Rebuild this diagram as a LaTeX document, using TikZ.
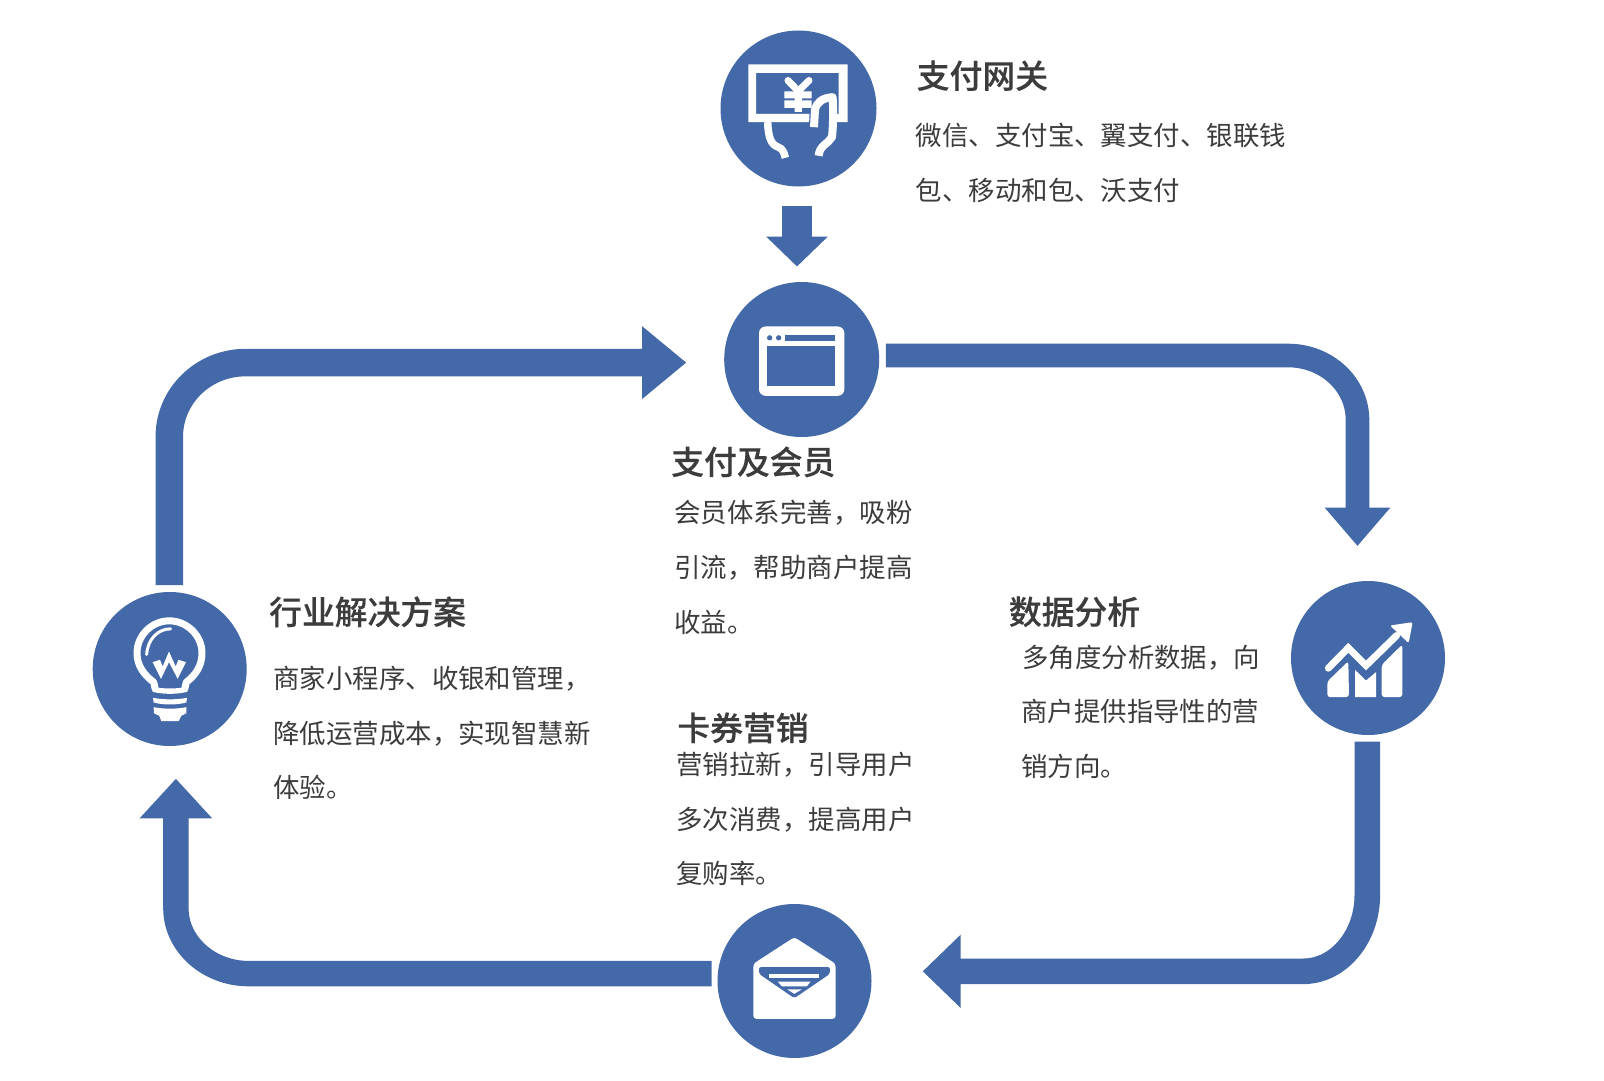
\documentclass[tikz,border=0pt]{standalone}
\usepackage{fontspec}
\setmainfont{Noto Sans CJK SC}
\newfontfamily\headfont{Noto Sans CJK SC Medium}[FakeBold=0.35]
\usetikzlibrary{arrows.meta}
\definecolor{brandblue}{HTML}{4369A9}
\definecolor{inkgrey}{HTML}{3C3C3C}
\tikzset{
  hub/.style={circle,fill=brandblue,inner sep=0pt,minimum size=#1},
  flow/.style={draw=brandblue,line cap=butt,line join=round},
  headtitle/.style={anchor=west,inner sep=0pt,text=inkgrey,font=\fontsize{32.8}{36}\headfont},
  bodyline/.style={anchor=west,inner sep=0pt,text=inkgrey,font=\fontsize{26.45}{30}\selectfont},
  iconink/.style={fill=white,draw=none},
  iconline/.style={draw=white,line cap=butt,line join=round}
}
\begin{document}
\begin{tikzpicture}[x=1pt,y=-1pt]
\useasboundingbox[fill=white] (0,0) rectangle (1604,1081);

% hubs
\node[hub=156pt] (gateway) at (798.5,108.5) {};
\node[hub=155pt] (payment) at (801.7,359.5) {};
\node[hub=154pt] (analytics) at (1368,658) {};
\node[hub=154pt] (coupon) at (794.5,981) {};
\node[hub=154pt] (solution) at (169.7,669) {};

% connector ends
\coordinate (gwOut) at (797,205.7);
\coordinate (payIn) at (797,266.5);
\coordinate (payOut) at (885.8,355.5);
\coordinate (anaIn) at (1357.5,546);
\coordinate (anaOut) at (1367.3,741.7);
\coordinate (couIn) at (922.7,971.3);
\coordinate (couOut) at (711.7,973.6);
\coordinate (solIn) at (175.9,778.7);
\coordinate (solOut) at (169.3,585);
\coordinate (payIn2) at (686.4,362.6);

% connectors
\draw[flow,line width=30pt,-{Triangle[length=30pt,width=60pt]}] (gwOut) -- (payIn);
\draw[flow,line width=23.6pt,-{Triangle[length=38.3pt,width=63pt]}]
  (payOut) -- (1288,355.5) .. controls (1326.2,355.5) and (1357.5,384) .. (1357.5,420) -- (anaIn);
\draw[flow,line width=25.6pt,-{Triangle[length=38pt,width=71pt]}]
  (anaOut) -- (1367.3,895) .. controls (1367.3,937) and (1338.5,971.3) .. (1303.3,971.3) -- (couIn);
\draw[flow,line width=25.4pt,-{Triangle[length=39.6pt,width=70pt]}]
  (couOut) -- (248.6,973.6) .. controls (208.6,973.6) and (175.9,944) .. (175.9,908.3) -- (solIn);
\draw[flow,line width=27.5pt,-{Triangle[length=44.4pt,width=70pt]}]
  (solOut) -- (169.3,436.7) .. controls (169.3,395.7) and (203.6,362.6) .. (245.4,362.6) -- (payIn2);

% gateway icon
\begin{scope}[shift={(700,20.5)},x=0.3333pt,y=-0.3333pt]
  \fill[white,even odd rule] (145,132) rectangle (443,305) (168,157) rectangle (416,280);
  \fill[brandblue] (330,278) rectangle (410,310);
  \draw[iconline,line width=7.5pt] (203,305) .. controls (205,350) and (212,372) .. (235,380) .. controls (248,385) and (252,395) .. (256,412);
  \draw[brandblue,line width=12pt] (345,318) -- (347,268) .. controls (352,245) and (368,232) .. (398,232);
  \draw[iconline,line width=8pt] (342,320) -- (345,268) .. controls (350,245) and (368,232) .. (398,230) .. controls (400,270) and (400,310) .. (396,350) .. controls (385,370) and (358,375) .. (356,406);
  \fill[white] (253,213) rectangle (335,234) (253,240) rectangle (335,262) (284,205) rectangle (306,274);
  \draw[iconline,line width=7pt,line cap=round] (264,180) -- (295,212) -- (327,180);
\end{scope}

% payment icon
\begin{scope}[shift={(710,280.5)},x=0.3333pt,y=-0.3333pt]
  \fill[white,rounded corners=6.5pt] (147,138) rectangle (403,346);
  \fill[brandblue] (170,198) rectangle (375,317);
  \fill[brandblue] (225,163) rectangle (375,181);
  \fill[brandblue] (179,172) circle[radius=8] (206,172) circle[radius=8];
\end{scope}

% analytics icon
\begin{scope}[shift={(1280,570.5)},x=0.3333pt,y=-0.3333pt]
  \fill[white,rounded corners=3pt] (142,333) -- (205,272) -- (207,380) -- (142,380) -- cycle;
  \fill[white] (225,298) -- (258,330) -- (288,305) -- (288,380) -- (225,380) -- cycle;
  \fill[white,rounded corners=3pt] (305,283) -- (367,222) -- (367,380) -- (305,380) -- cycle;
  \draw[brandblue,line width=11pt,line join=miter] (145,300) -- (205,240) -- (258,293) -- (360,190);
  \draw[iconline,line width=7pt,line cap=round,line join=miter] (145,293) -- (205,232) -- (258,285) -- (350,195);
  \fill[white,rounded corners=2pt] (398,155) -- (386,218) -- (330,165) -- cycle;
\end{scope}

% coupon icon
\begin{scope}[shift={(700,890.5)},x=0.3333pt,y=-0.3333pt]
  \fill[white,rounded corners=3pt] (160,220) -- (283,140) -- (407,220) -- (407,385) -- (160,385) -- cycle;
  \fill[brandblue,rounded corners=2pt] (177,230) -- (390,230) -- (390,250) -- (283,323) -- (177,250) -- cycle;
  \fill[white] (208,250) rectangle (357,263);
  \fill[white] (233,273) -- (332,273) -- (320,288) -- (246,288) -- cycle;
  \fill[white] (262,297) -- (305,297) -- (283,310) -- cycle;
\end{scope}

% solution icon
\begin{scope}[shift={(80,580.5)},x=0.3333pt,y=-0.3333pt]
  \draw[iconline,line width=7pt] (226,326) -- (221,305) .. controls (195,285) and (171,258) .. (171,218)
     .. controls (171,165) and (215,121) .. (268,121) .. controls (321,121) and (366,165) .. (366,218)
     .. controls (366,258) and (345,285) .. (319,305) -- (314,326);
  \draw[iconline,line width=3pt,line cap=round] (272,145) .. controls (235,145) and (203,175) .. (200,222);
  \fill[white] (218,245) -- (240,238) -- (248,258) -- (267,213) -- (287,258) -- (295,238) -- (318,245) -- (293,295) -- (267,245) -- (243,295) -- cycle;
  \fill[white] (214,318) .. controls (250,326) and (290,326) .. (326,318) -- (322,334) .. controls (290,342) and (250,342) .. (218,334) -- cycle;
  \fill[white] (219,352) .. controls (250,358) and (290,358) .. (321,352) -- (319,366) .. controls (290,374) and (250,374) .. (221,366) -- cycle;
  \fill[white] (221,380) .. controls (250,386) and (290,386) .. (319,380) -- (319,398) -- (304,406) -- (296,422) -- (244,422) -- (238,406) -- (222,398) -- cycle;
\end{scope}

% texts
\node[headtitle] (t1) at (916.6,75.7) {支付网关};
\node[bodyline] (b1a) at (915.6,135.2) {微信、支付宝、翼支付、银联钱};
\node[bodyline] (b1b) at (915.6,190.3) {包、移动和包、沃支付};

\node[headtitle] (t2) at (671.1,461.9) {支付及会员};
\node[bodyline] (b2a) at (674.2,513) {会员体系完善，吸粉};
\node[bodyline] (b2b) at (674.2,567.7) {引流，帮助商户提高};
\node[bodyline] (b2c) at (674.2,622.5) {收益。};

\node[headtitle] (t3) at (269,611.8) {行业解决方案};
\node[bodyline] (b3a) at (273.1,679.2) {商家小程序、收银和管理，};
\node[bodyline] (b3b) at (273.1,734) {降低运营成本，实现智慧新};
\node[bodyline] (b3c) at (273.1,787.7) {体验。};

\node[headtitle] (t4) at (1008.7,611.8) {数据分析};
\node[bodyline] (b4a) at (1022,657.8) {多角度分析数据，向};
\node[bodyline] (b4b) at (1021,711.5) {商户提供指导性的营};
\node[bodyline] (b4c) at (1021,766.7) {销方向。};

\node[headtitle] (t5) at (677.2,727.9) {卡券营销};
\node[bodyline] (b5a) at (676.2,765.2) {营销拉新，引导用户};
\node[bodyline] (b5b) at (676.2,819.4) {多次消费，提高用户};
\node[bodyline] (b5c) at (676.2,873.6) {复购率。};
\end{tikzpicture}
\end{document}
